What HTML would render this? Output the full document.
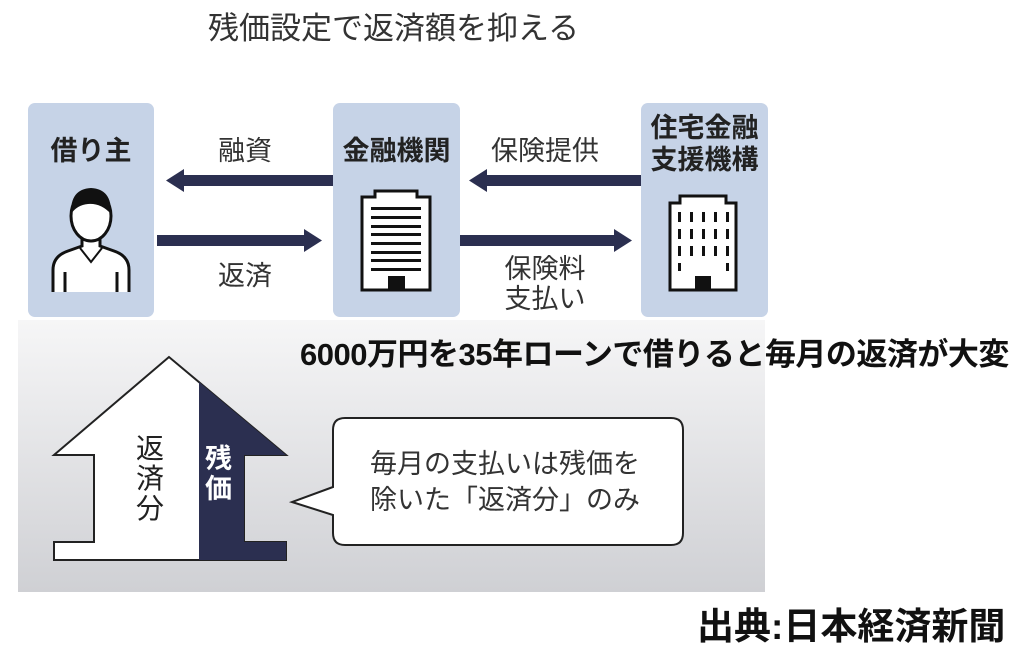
<!DOCTYPE html>
<html><head><meta charset="utf-8"><style>
body{margin:0;width:1011px;height:661px;background:#fff;overflow:hidden;position:relative;font-family:"Liberation Sans","Noto Sans CJK JP",sans-serif;}
.t{position:absolute;white-space:nowrap;}
</style></head><body>
<svg width="1011" height="661" style="position:absolute;left:0;top:0">
<defs><linearGradient id="g" x1="0" y1="0" x2="0" y2="1"><stop offset="0" stop-color="#f6f6f7"/><stop offset="1" stop-color="#cfd0d4"/></linearGradient></defs>
<rect x="18" y="320" width="747" height="272" fill="url(#g)"/>
<rect x="28" y="103" width="126" height="214" rx="7" fill="#c6d3e7"/>
<rect x="333" y="103" width="127" height="214" rx="7" fill="#c6d3e7"/>
<rect x="641" y="103" width="127" height="214" rx="7" fill="#c6d3e7"/>
<g fill="#2b2f50">
<rect x="180" y="175" width="153" height="11"/><polygon points="166,180.5 184,169 184,192"/>
<rect x="157" y="235" width="153" height="11"/><polygon points="322,240.5 304,229 304,252"/>
<rect x="483" y="175" width="158" height="11"/><polygon points="469,180.5 487,169 487,192"/>
<rect x="460" y="235" width="160" height="11"/><polygon points="632,240.5 614,229 614,252"/>
</g>
<!-- person -->
<g fill="#fff" stroke="#111" stroke-width="3">
<path d="M53,292 L53,270 Q53,256 68,251 L82,246 L82,236 L100,236 L100,246 L114,251 Q129,256 129,270 L129,292"/>
<ellipse cx="91" cy="216" rx="20" ry="25"/>
</g>
<path d="M71,214 Q70,189 91,188 Q112,189 111,214 Q101,203 88,204 Q77,205 71,214Z" fill="#111"/>
<path d="M80,248 L91,262 L102,248" fill="none" stroke="#111" stroke-width="2"/>
<line x1="65" y1="272" x2="65" y2="292" stroke="#111" stroke-width="3"/><line x1="117" y1="272" x2="117" y2="292" stroke="#111" stroke-width="3"/>
<!-- building mid -->
<path d="M362,290 L362,197 L375,197 L375,191 L417,191 L417,197 L430,197 L430,290Z" fill="#fff" stroke="#111" stroke-width="3"/>
<g fill="#111"><rect x="371" y="207" width="50" height="3"/><rect x="371" y="216" width="50" height="3"/><rect x="371" y="225" width="50" height="3"/><rect x="371" y="233" width="50" height="3"/><rect x="371" y="242" width="50" height="3"/><rect x="371" y="251" width="50" height="3"/><rect x="371" y="259" width="50" height="3"/><rect x="371" y="268" width="50" height="3"/><rect x="388" y="276" width="17" height="14"/></g>
<!-- building right -->
<path d="M670,290 L670,203 L680,203 L680,196 L726,196 L726,203 L736,203 L736,290Z" fill="#fff" stroke="#111" stroke-width="3"/>
<g fill="#111">
<rect x="678" y="212" width="3" height="10"/><rect x="690" y="212" width="3" height="10"/><rect x="702" y="212" width="3" height="10"/><rect x="714" y="212" width="3" height="10"/><rect x="726" y="212" width="3" height="10"/>
<rect x="678" y="229" width="3" height="10"/><rect x="690" y="229" width="3" height="10"/><rect x="702" y="229" width="3" height="10"/><rect x="714" y="229" width="3" height="10"/><rect x="726" y="229" width="3" height="10"/>
<rect x="678" y="246" width="3" height="10"/><rect x="690" y="246" width="3" height="10"/><rect x="702" y="246" width="3" height="10"/><rect x="714" y="246" width="3" height="10"/><rect x="726" y="246" width="3" height="10"/>
<rect x="678" y="263" width="3" height="8"/><rect x="726" y="263" width="3" height="8"/>
<rect x="695" y="276" width="16" height="14"/></g>
<!-- up arrow -->
<polygon points="169,357 54,455 94,455 94,542 54,542 54,560 286,560 286,542 244,542 244,455 286,455" fill="#fff" stroke="#222" stroke-width="2"/>
<polygon points="199,382 286,455 244,455 244,542 286,542 286,560 199,560" fill="#2b2f50"/>
<!-- bubble -->
<path d="M345,418 L671,418 Q683,418 683,430 L683,533 Q683,545 671,545 L345,545 Q333,545 333,533 L333,515 L292,502 L333,487 L333,430 Q333,418 345,418Z" fill="#fff" stroke="#222" stroke-width="2"/>
</svg>
<div class="t" style="left:208px;top:3px;font-size:31px;color:#333;">残価設定で返済額を抑える</div>
<div class="t" style="left:28px;width:126px;text-align:center;top:129px;font-size:27px;font-weight:bold;color:#222;">借り主</div>
<div class="t" style="left:333px;width:127px;text-align:center;top:129px;font-size:27px;font-weight:bold;color:#222;">金融機関</div>
<div class="t" style="left:641px;width:127px;text-align:center;top:112px;font-size:27px;font-weight:bold;color:#222;line-height:32px;">住宅金融<br>支援機構</div>
<div class="t" style="left:200px;width:90px;text-align:center;top:129px;font-size:27px;color:#333;">融資</div>
<div class="t" style="left:200px;width:90px;text-align:center;top:254px;font-size:27px;color:#333;">返済</div>
<div class="t" style="left:475px;width:140px;text-align:center;top:129px;font-size:27px;color:#333;">保険提供</div>
<div class="t" style="left:475px;width:140px;text-align:center;top:254px;font-size:27px;color:#333;line-height:30px;">保険料<br>支払い</div>
<div class="t" style="left:300px;top:329px;font-size:31px;font-weight:bold;color:#111;letter-spacing:-0.5px;">6000万円を35年ローンで借りると毎月の返済が大変</div>
<div class="t" style="left:136px;top:434px;width:28px;font-size:28px;color:#222;line-height:30px;white-space:normal;">返済分</div>
<div class="t" style="left:205px;top:444px;width:28px;font-size:27px;font-weight:bold;color:#fff;line-height:30px;white-space:normal;">残価</div>
<div class="t" style="left:370px;top:446px;font-size:27px;color:#333;line-height:36px;">毎月の支払いは残価を<br>除いた「返済分」のみ</div>
<div class="t" style="left:697px;top:596px;font-size:37px;font-weight:bold;color:#111;">出典:日本経済新聞</div>
</body></html>
